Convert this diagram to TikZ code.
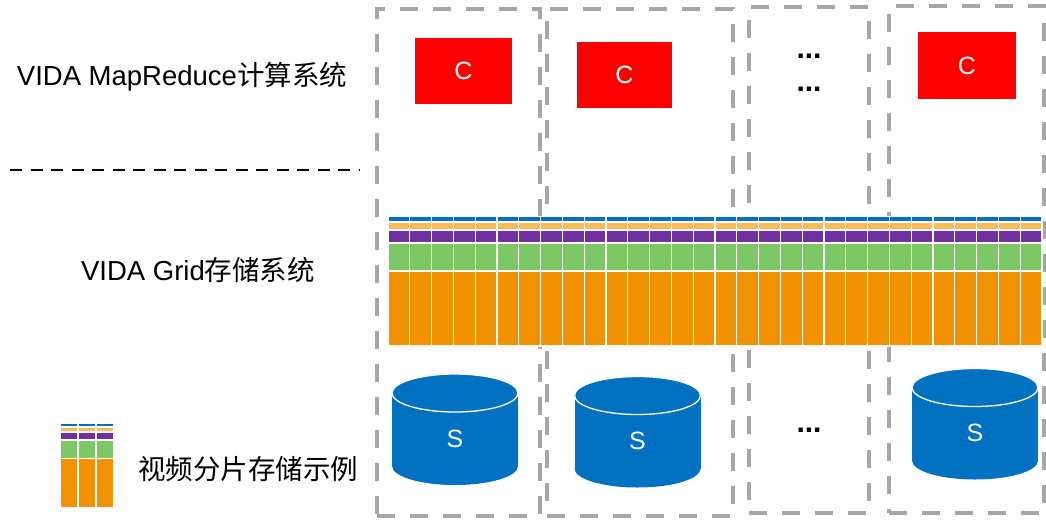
\documentclass[tikz,border=0pt]{standalone}
\usepackage{fontspec}
\setmainfont{Liberation Sans}
\newfontfamily\cjk{Noto Sans CJK SC}
\definecolor{gline}{HTML}{A6A6A6}
\definecolor{dblue}{HTML}{0070C0}
\definecolor{lorange}{HTML}{FFB957}
\definecolor{dpurple}{HTML}{7030A0}
\definecolor{lgreen}{HTML}{7CC864}
\definecolor{dorange}{HTML}{F39200}
\begin{document}
\begin{tikzpicture}[x=1pt,y=-1pt,
  gbox/.style={draw=gline, line width=4pt, dash pattern=on 18pt off 15pt, inner sep=0pt, outer sep=0pt},
  cbox/.style={fill=red, text=white, inner sep=0pt, font=\fontsize{25}{28}\selectfont},
  lbl/.style={inner sep=0pt, font=\fontsize{27.5}{32}\selectfont},
  dots/.style={inner sep=0pt, font=\fontsize{30}{30}\selectfont\bfseries},
  cell/.style={draw=white, line width=1.2pt},
  cyl/.pic={
    \fill[dblue] (-63,-36.5) rectangle (63,36.5);
    \fill[dblue] (0,36.5) ellipse [x radius=63, y radius=19];
    \draw[white, line width=1.3pt, fill=dblue] (0,-36.5) ellipse [x radius=63, y radius=19];
    \node[text=white, inner sep=0pt, font=\fontsize{25}{28}\selectfont] (-s) at (0,9) {S};
  }
]
\useasboundingbox (0,0) rectangle (1046,519);
\fill[white] (0,0) rectangle (1046,519);

% dashed column boxes
\node[gbox, minimum width=163pt, minimum height=507pt] (col1) at (458.5,262.5) {};
\node[gbox, minimum width=186pt, minimum height=507pt] (col2) at (640,262.5) {};
\node[gbox, minimum width=120pt, minimum height=506pt] (col3) at (809,260) {};
\node[gbox, minimum width=155pt, minimum height=507pt] (col4) at (966.5,259.5) {};

% compute nodes
\node[cbox, minimum width=97pt, minimum height=66pt] (c1) at (463.5,71) {C};
\node[cbox, minimum width=95pt, minimum height=66pt] (c2) at (624.5,75) {C};
\node[cbox, minimum width=98pt, minimum height=67pt] (c3) at (967,65.5) {C};
\node[dots] (d1) at (809,56) {...};
\node[dots] (d2) at (809,89) {...};

% divider
\coordinate (dv1) at (10,170);
\coordinate (dv2) at (360,170);
\draw[black, line width=2.5pt, dash pattern=on 12pt off 8.5pt] (dv1) -- (dv2);

% labels
\node[lbl] (t1) at (182,77) {VIDA MapReduce{\cjk 计算系统}};
\node[lbl] (t2) at (198,270) {VIDA Grid{\cjk 存储系统}};
\node[lbl] (t3) at (248,469) {{\cjk 视频分片存储示例}};

% grid storage
\foreach \i in {0,...,29}{
  \pgfmathsetmacro\xa{388+\i*21.8}
  \pgfmathsetmacro\xb{\xa+21.8}
  \filldraw[cell, fill=dblue] (\xa,216.5) rectangle (\xb,222);
  \filldraw[cell, fill=lorange] (\xa,222) rectangle (\xb,230);
  \filldraw[cell, fill=dpurple] (\xa,230) rectangle (\xb,243);
  \filldraw[cell, fill=lgreen] (\xa,243) rectangle (\xb,271);
  \filldraw[cell, fill=dorange] (\xa,271) rectangle (\xb,346);
}

% legend icon
\foreach \xa in {60,78,96}{
  \pgfmathsetmacro\xb{\xa+17.5}
  \filldraw[cell, fill=dblue] (\xa,423) rectangle (\xb,427);
  \filldraw[cell, fill=lorange] (\xa,427) rectangle (\xb,432);
  \filldraw[cell, fill=dpurple] (\xa,432) rectangle (\xb,440);
  \filldraw[cell, fill=lgreen] (\xa,440) rectangle (\xb,458.5);
  \filldraw[cell, fill=dorange] (\xa,458.5) rectangle (\xb,508);
}

% storage cylinders
\pic (s1) at (455,429.5) {cyl};
\pic (s2) at (637.5,432) {cyl};
\pic (s3) at (975,424) {cyl};
\node[dots] (d3) at (809,430) {...};
\end{tikzpicture}
\end{document}
